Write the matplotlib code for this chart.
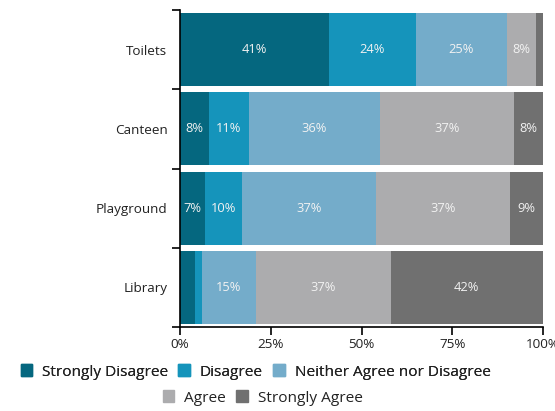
import matplotlib.pyplot as plt
import numpy as np
from matplotlib.patches import Patch
from matplotlib.ticker import FixedLocator

plt.rcParams['font.family'] = ['Open Sans', 'DejaVu Sans']

# survey data (percent)
categories = ['Toilets', 'Canteen', 'Playground', 'Library']
responses = ['Strongly Disagree', 'Disagree', 'Neither Agree nor Disagree', 'Agree', 'Strongly Agree']
strongly_disagree = [41, 8, 7, 4]
disagree = [24, 11, 10, 2]
neither = [25, 36, 37, 15]
agree = [8, 37, 37, 37]
strongly_agree = [2, 8, 9, 42]
colors = ['#05677f', '#1594bb', '#74acca', '#acacae', '#707070']
xticks = [0, 25, 50, 75, 100]
xtick_labels = ['0%', '25%', '50%', '75%', '100%']

series = [strongly_disagree, disagree, neither, agree, strongly_agree]

fig = plt.figure(figsize=(5.55, 4.11), dpi=100)
ax = fig.add_axes([180 / 555, 1 - 327 / 411, 363 / 555, 317 / 411])

y = np.arange(len(categories))
left = np.zeros(len(categories))
for vals, col, name in zip(series, colors, responses):
    bars = ax.barh(y, vals, left=left, height=0.92, color=col, label=name)
    for b, v in zip(bars, vals):
        if v >= 7:
            ax.text(b.get_x() + b.get_width() / 2, b.get_y() + b.get_height() / 2,
                    f'{v}%', ha='center', va='center', color='#f2f2f2', fontsize=9.3)
    left += np.array(vals)

ax.set_xlim(0, 100)
ax.set_ylim(len(categories) - 0.5, -0.5)
ax.set_yticks(y)
ax.set_yticklabels(categories, fontsize=9.7, color='#222222')
ax.yaxis.set_minor_locator(FixedLocator(np.arange(-0.5, len(categories), 1)))
ax.tick_params(axis='y', which='major', length=0, pad=9)
ax.tick_params(axis='y', which='minor', length=6, width=1.2)
ax.set_xticks(xticks)
ax.set_xticklabels(xtick_labels, fontsize=9.7, color='#222222')
ax.tick_params(axis='x', length=6, width=1.2, pad=2)
for s in ['top', 'right']:
    ax.spines[s].set_visible(False)
for s in ['left', 'bottom']:
    ax.spines[s].set_linewidth(1.2)

handles = [Patch(color=c, label=r) for c, r in zip(colors, responses)]
leg_kw = dict(loc='center', frameon=False, fontsize=11.1, handlelength=0.75, handleheight=0.75,
              handletextpad=0.65, columnspacing=0.65, borderpad=0)
leg1 = fig.legend(handles=handles[:3], bbox_to_anchor=(255.5 / 555, 1 - 372 / 411), ncol=3, **leg_kw)
leg2 = fig.legend(handles=handles[3:], bbox_to_anchor=(262.5 / 555, 1 - 398 / 411), ncol=2, **leg_kw)
fig.add_artist(leg1)
for leg in (leg1, leg2):
    for t in leg.get_texts():
        t.set_color('#222222')

fig.savefig('out.png', dpi=100)
